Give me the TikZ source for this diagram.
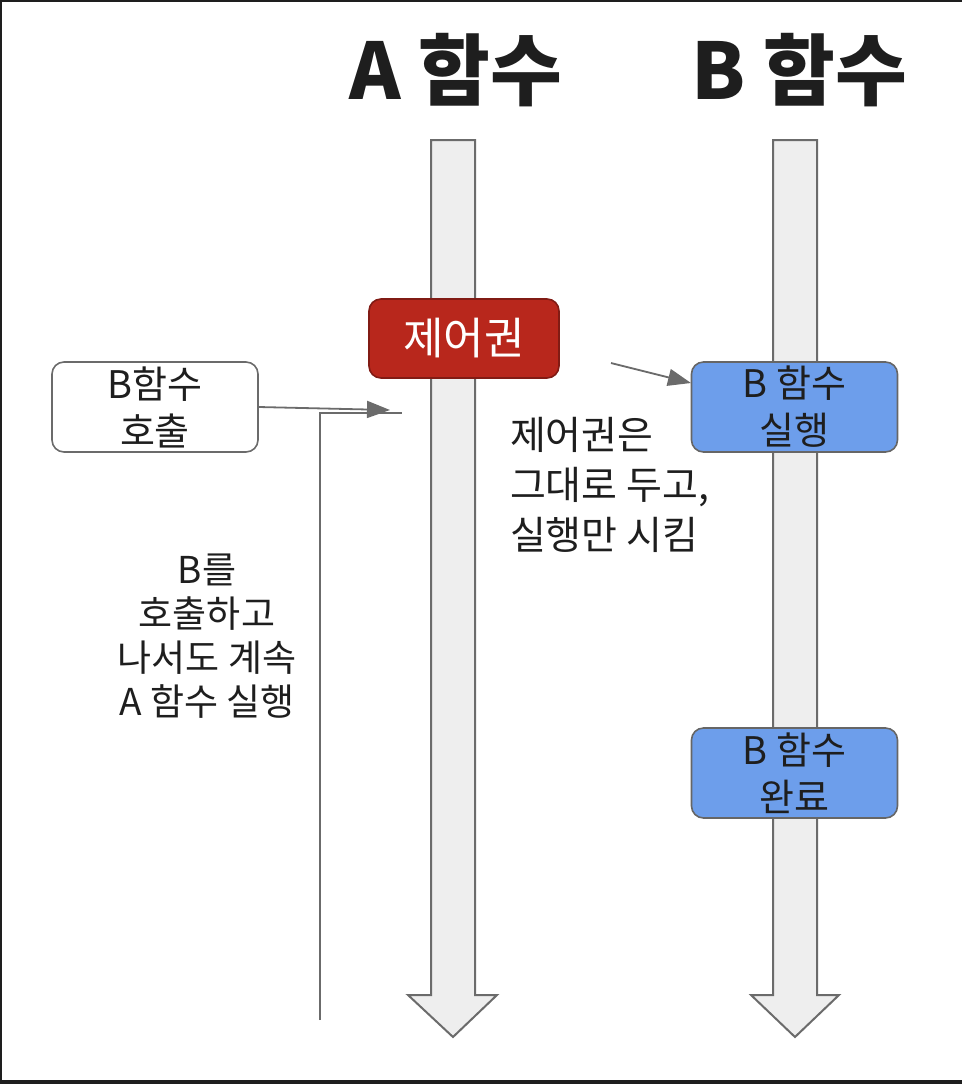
\documentclass[tikz,border=0pt]{standalone}
\usepackage{fontspec}
\setmainfont{Noto Sans CJK KR}
\usetikzlibrary{arrows.meta,positioning}
\definecolor{laneGray}{HTML}{EEEEEE}
\definecolor{edgeGray}{HTML}{6B6B6B}
\definecolor{ctrlRed}{HTML}{B8271C}
\definecolor{runBlue}{HTML}{6D9EEB}
\definecolor{inkBlack}{HTML}{1E1E1E}

\begin{document}
\begin{tikzpicture}[
  x=0.5pt, y=-0.5pt,
  >={Triangle[length=11.5pt, width=8.5pt]},
  font=\fontsize{18pt}{22pt}\selectfont,
  text=inkBlack,
  lane/.style={draw=edgeGray, line width=1pt, fill=laneGray, line join=miter},
  box/.style={rectangle, rounded corners=6pt, draw=edgeGray, line width=0.8pt,
              align=center, minimum width=103pt, minimum height=45pt, inner sep=0pt,
              font=\fontsize{19pt}{23.5pt}\selectfont},
  run/.style={box, fill=runBlue, draw=black!60},
  ctrl/.style={box, fill=ctrlRed, draw=ctrlRed!70!black, text=white,
               minimum width=95pt, minimum height=39.5pt,
               font=\fontsize{22pt}{26pt}\selectfont},
  title/.style={font=\fontsize{39pt}{42pt}\selectfont\bfseries, anchor=base},
  note/.style={align=center, font=\fontsize{18.5pt}{22pt}\selectfont},
  arr/.style={->, draw=edgeGray, line width=0.9pt}
]
\useasboundingbox (0,0) rectangle (962,1084);
% --- frame ---
\draw[line width=1pt, inkBlack] (962,1) -- (1,1) -- (1,1084);
\draw[line width=2pt, inkBlack] (0,1082) -- (962,1082);
% --- lanes ---
\draw[lane] (431,140) -- (475,140) -- (475,995) -- (497,995) -- (453,1037)
            -- (408,995) -- (431,995) -- cycle;
\draw[lane] (773,140) -- (817,140) -- (817,995) -- (839,995) -- (795,1037)
            -- (751,995) -- (773,995) -- cycle;
\node[title] (ta) at (456,99) {A 함수};
\node[title] (tb) at (799,99) {B 함수};
% --- boxes ---
\node[ctrl] (ctrl) at (464,338.5) {제어권};
\node[box, fill=white] (call) at (155,407) {B함수\\호출};
\node[run] (exec) at (794.5,407) {B 함수\\실행};
\node[run] (done) at (794.5,773) {B 함수\\완료};
% --- notes ---
\node[note, align=left, anchor=north west, font=\fontsize{19.5pt}{25pt}\selectfont]
  (keep) at (503,410) {제어권은\\그대로 두고,\\실행만 시킴};
\node[note, anchor=north] (cont) at (207,547) {B를\\호출하고\\나서도 계속\\A 함수 실행};
% --- connectors ---
\coordinate (hit) at (390,410);
\coordinate (bot) at (320,1020);
\coordinate (corner) at (320,413);
\coordinate (stub) at (402,413);
\coordinate (from) at (611,363);
\coordinate (to) at (691,383);
\draw[arr] (call.east) -- (hit);
\draw[draw=edgeGray, line width=0.9pt] (bot) -- (corner) -- (stub);
\draw[arr] (from) -- (to);
\end{tikzpicture}
\end{document}
